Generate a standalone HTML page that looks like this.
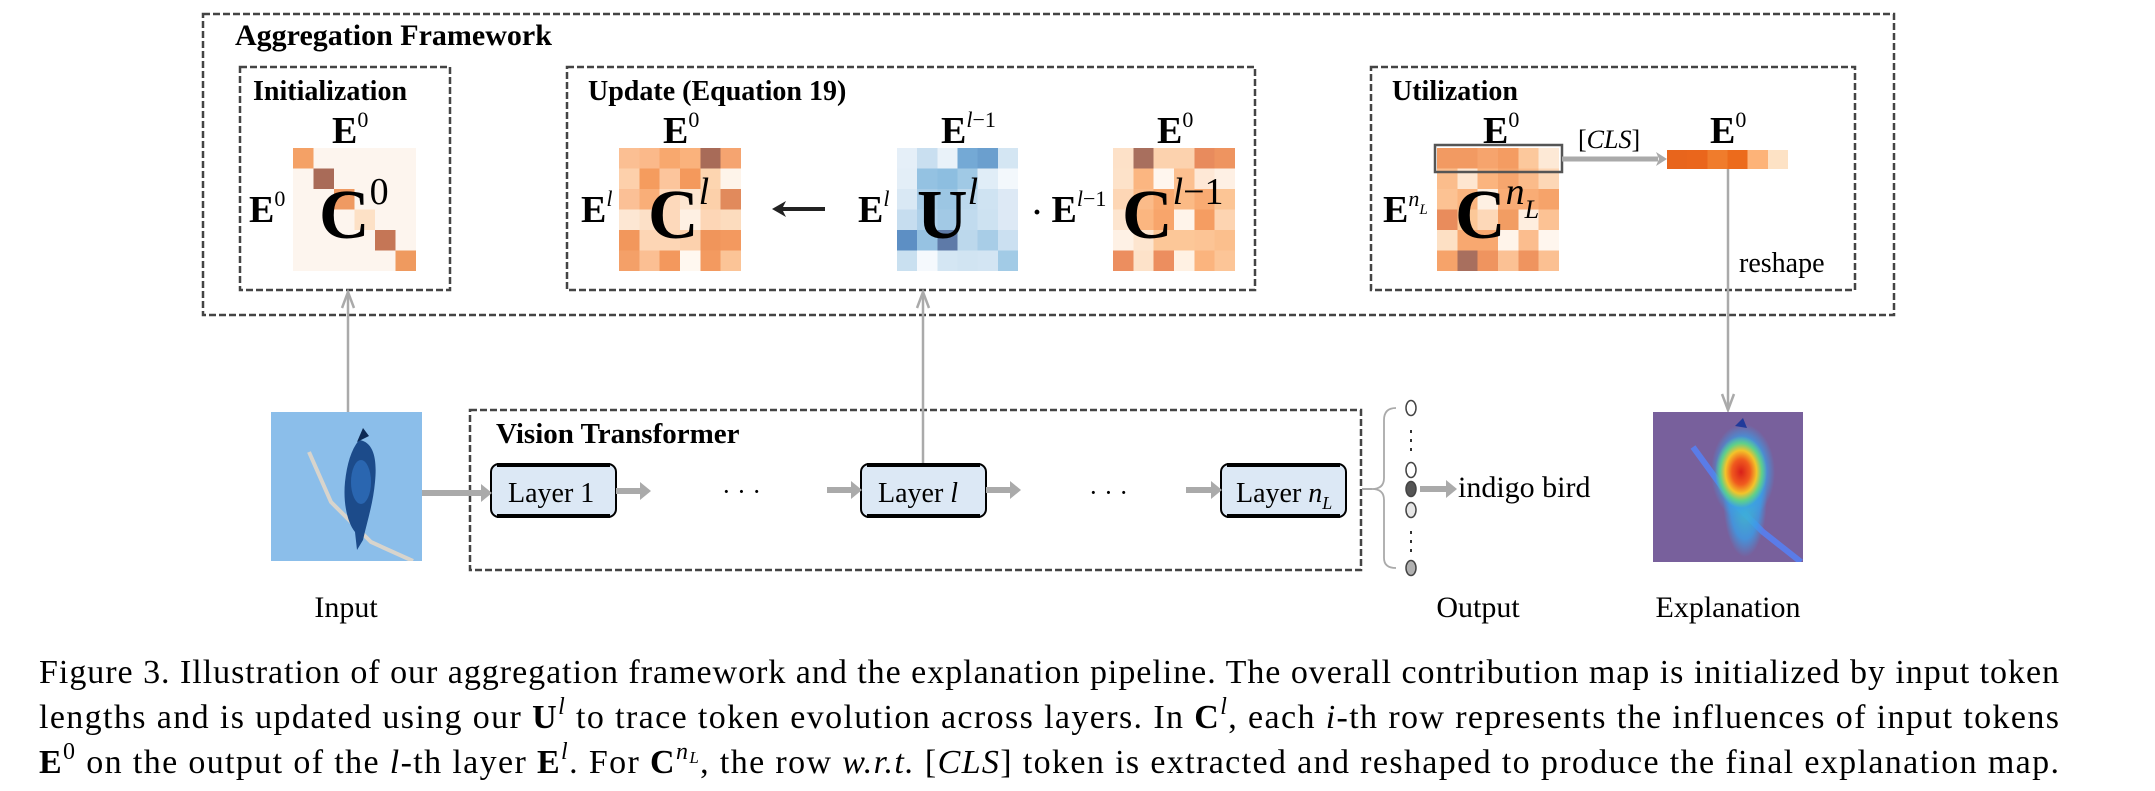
<!DOCTYPE html>
<html><head><meta charset="utf-8"><style>
html,body{margin:0;padding:0;background:#fff;}
svg{display:block;font-family:"Liberation Serif","Times New Roman",Times,serif;}
text,tspan{font-family:"Liberation Serif","Times New Roman",Times,serif;}
text{fill:#000;}
.b{font-weight:bold;}
.i{font-style:italic;}
</style></head><body>
<svg width="2155" height="791" viewBox="0 0 2155 791" xmlns="http://www.w3.org/2000/svg" font-family="Liberation Serif, Times New Roman, serif">
<defs>
<radialGradient id="h1" cx="0.5" cy="0.5" r="0.5">
<stop offset="0" stop-color="#d8201a"/><stop offset="0.35" stop-color="#f05a1e"/><stop offset="0.6" stop-color="#f3c42a"/><stop offset="0.8" stop-color="#5fd08a"/><stop offset="1" stop-color="#5fd08a" stop-opacity="0"/>
</radialGradient>
<radialGradient id="h2" cx="0.5" cy="0.5" r="0.5">
<stop offset="0" stop-color="#40c8c0"/><stop offset="0.7" stop-color="#3a9ee8" stop-opacity="0.8"/><stop offset="1" stop-color="#3a9ee8" stop-opacity="0"/>
</radialGradient>
</defs>

<g fill="none" stroke="#444" stroke-width="2.5" stroke-dasharray="7 3">
<rect x="203" y="14" width="1691" height="301"/>
<rect x="240" y="67" width="210" height="223"/>
<rect x="567" y="67" width="688" height="223"/>
<rect x="1371" y="67" width="484" height="223"/>
<rect x="470" y="410" width="891" height="160"/>
</g>

<text x="235" y="45" class="b" font-size="30">Aggregation Framework</text>
<text x="253" y="100" class="b" font-size="28">Initialization</text>
<text x="588" y="100" class="b" font-size="28">Update (Equation 19)</text>
<text x="1392" y="100" class="b" font-size="28">Utilization</text>

<svg x="293" y="148" width="123" height="123" viewBox="0 0 6 6" preserveAspectRatio="none" shape-rendering="crispEdges">
<rect width="6" height="6" fill="#fdf5ee"/>
<rect x="0" y="0" width="1" height="1" fill="#f4a166"/>
<rect x="1" y="1" width="1" height="1" fill="#a96b58"/>
<rect x="2" y="2" width="1" height="1" fill="#ef9a62"/>
<rect x="3" y="3" width="1" height="1" fill="#fde1c6"/>
<rect x="4" y="4" width="1" height="1" fill="#c57656"/>
<rect x="5" y="5" width="1" height="1" fill="#ef9a5f"/>
</svg>

<svg x="619" y="148" width="122" height="123" viewBox="0 0 6 6" preserveAspectRatio="none" shape-rendering="crispEdges">
<g><rect x="0" y="0" width="1" height="1" fill="#fbbf93"/><rect x="1" y="0" width="1" height="1" fill="#fbb98a"/><rect x="2" y="0" width="1" height="1" fill="#f8a86e"/><rect x="3" y="0" width="1" height="1" fill="#fab27c"/><rect x="4" y="0" width="1" height="1" fill="#a86b58"/><rect x="5" y="0" width="1" height="1" fill="#f5a470"/></g>
<g><rect x="0" y="1" width="1" height="1" fill="#fdd0ab"/><rect x="1" y="1" width="1" height="1" fill="#f59c5e"/><rect x="2" y="1" width="1" height="1" fill="#fcc59c"/><rect x="3" y="1" width="1" height="1" fill="#f4995c"/><rect x="4" y="1" width="1" height="1" fill="#fdd5b0"/><rect x="5" y="1" width="1" height="1" fill="#fef4ea"/></g>
<g><rect x="0" y="2" width="1" height="1" fill="#fbc096"/><rect x="1" y="2" width="1" height="1" fill="#f9ae78"/><rect x="2" y="2" width="1" height="1" fill="#fdd9bb"/><rect x="3" y="2" width="1" height="1" fill="#fde6d1"/><rect x="4" y="2" width="1" height="1" fill="#fcd0aa"/><rect x="5" y="2" width="1" height="1" fill="#e18a5c"/></g>
<g><rect x="0" y="3" width="1" height="1" fill="#fde7d3"/><rect x="1" y="3" width="1" height="1" fill="#fce0c7"/><rect x="2" y="3" width="1" height="1" fill="#fdd9bb"/><rect x="3" y="3" width="1" height="1" fill="#fef0e3"/><rect x="4" y="3" width="1" height="1" fill="#fdd6b6"/><rect x="5" y="3" width="1" height="1" fill="#fcdcbe"/></g>
<g><rect x="0" y="4" width="1" height="1" fill="#f2975c"/><rect x="1" y="4" width="1" height="1" fill="#fdd6b5"/><rect x="2" y="4" width="1" height="1" fill="#fdd6b5"/><rect x="3" y="4" width="1" height="1" fill="#fcd1ad"/><rect x="4" y="4" width="1" height="1" fill="#f0955b"/><rect x="5" y="4" width="1" height="1" fill="#f3995f"/></g>
<g><rect x="0" y="5" width="1" height="1" fill="#f4a068"/><rect x="1" y="5" width="1" height="1" fill="#fbbf93"/><rect x="2" y="5" width="1" height="1" fill="#f3985d"/><rect x="3" y="5" width="1" height="1" fill="#fff8f0"/><rect x="4" y="5" width="1" height="1" fill="#f39a60"/><rect x="5" y="5" width="1" height="1" fill="#fbc497"/></g>
</svg>

<svg x="897" y="148" width="121" height="123" viewBox="0 0 6 6" preserveAspectRatio="none" shape-rendering="crispEdges">
<g><rect x="0" y="0" width="1" height="1" fill="#e5eff8"/><rect x="1" y="0" width="1" height="1" fill="#c9dff0"/><rect x="2" y="0" width="1" height="1" fill="#e9f2f9"/><rect x="3" y="0" width="1" height="1" fill="#74a9d5"/><rect x="4" y="0" width="1" height="1" fill="#6b9fce"/><rect x="5" y="0" width="1" height="1" fill="#d4e6f3"/></g>
<g><rect x="0" y="1" width="1" height="1" fill="#e3eef7"/><rect x="1" y="1" width="1" height="1" fill="#94c2e2"/><rect x="2" y="1" width="1" height="1" fill="#8dbee0"/><rect x="3" y="1" width="1" height="1" fill="#a0c9e5"/><rect x="4" y="1" width="1" height="1" fill="#e0edf7"/><rect x="5" y="1" width="1" height="1" fill="#f3f8fc"/></g>
<g><rect x="0" y="2" width="1" height="1" fill="#d9e8f4"/><rect x="1" y="2" width="1" height="1" fill="#a6cbe6"/><rect x="2" y="2" width="1" height="1" fill="#9cc6e3"/><rect x="3" y="2" width="1" height="1" fill="#bcd8ec"/><rect x="4" y="2" width="1" height="1" fill="#cfe3f2"/><rect x="5" y="2" width="1" height="1" fill="#dde9f5"/></g>
<g><rect x="0" y="3" width="1" height="1" fill="#c6ddef"/><rect x="1" y="3" width="1" height="1" fill="#aed0e9"/><rect x="2" y="3" width="1" height="1" fill="#a2c9e5"/><rect x="3" y="3" width="1" height="1" fill="#c1dbee"/><rect x="4" y="3" width="1" height="1" fill="#cde2f1"/><rect x="5" y="3" width="1" height="1" fill="#dde9f5"/></g>
<g><rect x="0" y="4" width="1" height="1" fill="#5d8fc4"/><rect x="1" y="4" width="1" height="1" fill="#96c2e2"/><rect x="2" y="4" width="1" height="1" fill="#5e7aa8"/><rect x="3" y="4" width="1" height="1" fill="#bcd8ec"/><rect x="4" y="4" width="1" height="1" fill="#a8cde7"/><rect x="5" y="4" width="1" height="1" fill="#cbe0f1"/></g>
<g><rect x="0" y="5" width="1" height="1" fill="#c9e0f0"/><rect x="1" y="5" width="1" height="1" fill="#f5f9fd"/><rect x="2" y="5" width="1" height="1" fill="#d4e6f3"/><rect x="3" y="5" width="1" height="1" fill="#d1e4f2"/><rect x="4" y="5" width="1" height="1" fill="#d3e5f3"/><rect x="5" y="5" width="1" height="1" fill="#a2cbe6"/></g>
</svg>

<svg x="1113" y="148" width="122" height="123" viewBox="0 0 6 6" preserveAspectRatio="none" shape-rendering="crispEdges">
<g><rect x="0" y="0" width="1" height="1" fill="#fde1c8"/><rect x="1" y="0" width="1" height="1" fill="#a86f5e"/><rect x="2" y="0" width="1" height="1" fill="#fcd2ae"/><rect x="3" y="0" width="1" height="1" fill="#fcd2ae"/><rect x="4" y="0" width="1" height="1" fill="#e88b5d"/><rect x="5" y="0" width="1" height="1" fill="#ee9460"/></g>
<g><rect x="0" y="1" width="1" height="1" fill="#fde2c9"/><rect x="1" y="1" width="1" height="1" fill="#fbb681"/><rect x="2" y="1" width="1" height="1" fill="#fff6ee"/><rect x="3" y="1" width="1" height="1" fill="#fcc090"/><rect x="4" y="1" width="1" height="1" fill="#fee8d6"/><rect x="5" y="1" width="1" height="1" fill="#fef0e4"/></g>
<g><rect x="0" y="2" width="1" height="1" fill="#fdd6b5"/><rect x="1" y="2" width="1" height="1" fill="#fbbb89"/><rect x="2" y="2" width="1" height="1" fill="#f9a96f"/><rect x="3" y="2" width="1" height="1" fill="#fbba85"/><rect x="4" y="2" width="1" height="1" fill="#f9ab72"/><rect x="5" y="2" width="1" height="1" fill="#fcc595"/></g>
<g><rect x="0" y="3" width="1" height="1" fill="#fde5cf"/><rect x="1" y="3" width="1" height="1" fill="#fbb680"/><rect x="2" y="3" width="1" height="1" fill="#f8a56b"/><rect x="3" y="3" width="1" height="1" fill="#fff4ea"/><rect x="4" y="3" width="1" height="1" fill="#f59d62"/><rect x="5" y="3" width="1" height="1" fill="#fdd4b1"/></g>
<g><rect x="0" y="4" width="1" height="1" fill="#fef1e5"/><rect x="1" y="4" width="1" height="1" fill="#fde5cf"/><rect x="2" y="4" width="1" height="1" fill="#fcc798"/><rect x="3" y="4" width="1" height="1" fill="#fcc798"/><rect x="4" y="4" width="1" height="1" fill="#fcc495"/><rect x="5" y="4" width="1" height="1" fill="#fbbf8d"/></g>
<g><rect x="0" y="5" width="1" height="1" fill="#ec8e5f"/><rect x="1" y="5" width="1" height="1" fill="#fde2c9"/><rect x="2" y="5" width="1" height="1" fill="#ec8e5f"/><rect x="3" y="5" width="1" height="1" fill="#fff1e3"/><rect x="4" y="5" width="1" height="1" fill="#fbb47e"/><rect x="5" y="5" width="1" height="1" fill="#fcc597"/></g>
</svg>

<svg x="1437" y="148" width="122" height="123" viewBox="0 0 6 6" preserveAspectRatio="none" shape-rendering="crispEdges">
<g><rect x="0" y="0" width="1" height="1" fill="#f29a62"/><rect x="1" y="0" width="1" height="1" fill="#f29a62"/><rect x="2" y="0" width="1" height="1" fill="#f6a46d"/><rect x="3" y="0" width="1" height="1" fill="#f49c62"/><rect x="4" y="0" width="1" height="1" fill="#fcc89c"/><rect x="5" y="0" width="1" height="1" fill="#fde9d6"/></g>
<g><rect x="0" y="1" width="1" height="1" fill="#fbbd8c"/><rect x="1" y="1" width="1" height="1" fill="#fee6d0"/><rect x="2" y="1" width="1" height="1" fill="#fbb47e"/><rect x="3" y="1" width="1" height="1" fill="#f6a66e"/><rect x="4" y="1" width="1" height="1" fill="#fbbb8a"/><rect x="5" y="1" width="1" height="1" fill="#fdd7b6"/></g>
<g><rect x="0" y="2" width="1" height="1" fill="#fcc293"/><rect x="1" y="2" width="1" height="1" fill="#fbb47e"/><rect x="2" y="2" width="1" height="1" fill="#fef0e3"/><rect x="3" y="2" width="1" height="1" fill="#f9ac75"/><rect x="4" y="2" width="1" height="1" fill="#f9ac75"/><rect x="5" y="2" width="1" height="1" fill="#f6a36a"/></g>
<g><rect x="0" y="3" width="1" height="1" fill="#e98c5c"/><rect x="1" y="3" width="1" height="1" fill="#fcc898"/><rect x="2" y="3" width="1" height="1" fill="#fdd8b8"/><rect x="3" y="3" width="1" height="1" fill="#f29d63"/><rect x="4" y="3" width="1" height="1" fill="#feeedf"/><rect x="5" y="3" width="1" height="1" fill="#fcc294"/></g>
<g><rect x="0" y="4" width="1" height="1" fill="#fde0c4"/><rect x="1" y="4" width="1" height="1" fill="#f8a870"/><rect x="2" y="4" width="1" height="1" fill="#f8a870"/><rect x="3" y="4" width="1" height="1" fill="#fff4ea"/><rect x="4" y="4" width="1" height="1" fill="#fbbd8e"/><rect x="5" y="4" width="1" height="1" fill="#fff6ee"/></g>
<g><rect x="0" y="5" width="1" height="1" fill="#f6a36a"/><rect x="1" y="5" width="1" height="1" fill="#a86f5e"/><rect x="2" y="5" width="1" height="1" fill="#ef945f"/><rect x="3" y="5" width="1" height="1" fill="#fbc194"/><rect x="4" y="5" width="1" height="1" fill="#ef945f"/><rect x="5" y="5" width="1" height="1" fill="#fbc092"/></g>
</svg>

<svg x="1667" y="150" width="121" height="19" viewBox="0 0 6 1" preserveAspectRatio="none" shape-rendering="crispEdges">
<rect x="0" y="0" width="1" height="1" fill="#e8651c"/><rect x="1" y="0" width="1" height="1" fill="#ea661c"/><rect x="2" y="0" width="1" height="1" fill="#f07c2c"/><rect x="3" y="0" width="1" height="1" fill="#ec6b1c"/><rect x="4" y="0" width="1" height="1" fill="#fdb378"/><rect x="5" y="0" width="1" height="1" fill="#fde2c5"/>
</svg>
<rect x="1435" y="145" width="127" height="27" fill="none" stroke="#555" stroke-width="2.5"/>
<line x1="1562" y1="159" x2="1658" y2="159" stroke="#aaa" stroke-width="5"/>
<polygon points="1656,152 1667,159 1656,166 1659,159" fill="#aaa"/>
<text x="1578" y="148" font-size="26">[<tspan class="i">CLS</tspan>]</text>

<g class="b" font-size="38">
<text x="332" y="143">E<tspan font-size="22" font-weight="normal" dy="-16">0</tspan></text>
<text x="663" y="143">E<tspan font-size="22" font-weight="normal" dy="-16">0</tspan></text>
<text x="941" y="143">E<tspan font-size="22" font-weight="normal" font-style="italic" dy="-16">l</tspan><tspan font-size="22" font-weight="normal" dy="0">−1</tspan></text>
<text x="1157" y="143">E<tspan font-size="22" font-weight="normal" dy="-16">0</tspan></text>
<text x="1483" y="143">E<tspan font-size="22" font-weight="normal" dy="-16">0</tspan></text>
<text x="1710" y="143">E<tspan font-size="22" font-weight="normal" dy="-16">0</tspan></text>
</g>
<g class="b" font-size="38">
<text x="249" y="222">E<tspan font-size="22" font-weight="normal" dy="-16">0</tspan></text>
<text x="581" y="222">E<tspan font-size="22" font-weight="normal" font-style="italic" dy="-16">l</tspan></text>
<text x="858" y="222">E<tspan font-size="22" font-weight="normal" font-style="italic" dy="-16">l</tspan></text>
<text x="1032" y="222"><tspan font-size="30">·</tspan> E<tspan font-size="22" font-weight="normal" font-style="italic" dy="-16">l</tspan><tspan font-size="22" font-weight="normal">−1</tspan></text>
<text x="1383" y="222">E<tspan font-size="22" font-weight="normal" font-style="italic" dy="-16">n<tspan font-size="15" dy="8">L</tspan></tspan></text>
</g>
<g class="b" font-size="70">
<text x="319" y="238">C<tspan font-size="38" font-weight="normal" dy="-34">0</tspan></text>
<text x="648" y="238">C<tspan font-size="38" font-weight="normal" font-style="italic" dy="-34">l</tspan></text>
<text x="917" y="238">U<tspan font-size="38" font-weight="normal" font-style="italic" dy="-34">l</tspan></text>
<text x="1122" y="238">C<tspan font-size="38" font-weight="normal" font-style="italic" dy="-34">l</tspan><tspan font-size="38" font-weight="normal">−1</tspan></text>
<text x="1455" y="238">C<tspan font-size="38" font-weight="normal" font-style="italic" dy="-34">n<tspan font-size="26" dy="14">L</tspan></tspan></text>
</g>
<line x1="782" y1="209" x2="825" y2="209" stroke="#222" stroke-width="4"/>
<polygon points="772,209 786,201 782,209 786,217" fill="#222"/>

<text x="1739" y="272" font-size="28">reshape</text>

<g stroke="#aaa" stroke-width="2.5" fill="none">
<line x1="348" y1="412" x2="348" y2="292"/>
<polyline points="342,308 348,292 354,308"/>
<line x1="923" y1="464" x2="923" y2="292"/>
<polyline points="917,308 923,292 929,308"/>
<line x1="1728" y1="169" x2="1728" y2="410"/>
<polyline points="1722,394 1728,410 1734,394"/>
</g>

<svg x="271" y="412" width="151" height="149" viewBox="0 0 151 149">
<rect width="151" height="149" fill="#8bbeea"/>
<path d="M38 40 L60 90 L100 130 L142 149" stroke="#d8d4cc" stroke-width="4" fill="none"/>
<path d="M88 28 C104 30 106 50 104 70 C102 92 96 110 92 128 L86 138 L84 120 C76 110 72 90 74 70 C76 52 80 38 88 28 Z" fill="#1c4b8a"/>
<path d="M86 30 L92 16 L98 24 Z" fill="#0d2a55"/>
<ellipse cx="90" cy="70" rx="10" ry="22" fill="#2a66b0"/>
</svg>

<text x="496" y="443" class="b" font-size="29">Vision Transformer</text>
<g>
<rect x="491" y="464" width="125" height="53" rx="8" fill="#dce8f5" stroke="#000" stroke-width="2"/>
<rect x="861" y="464" width="125" height="53" rx="8" fill="#dce8f5" stroke="#000" stroke-width="2"/>
<rect x="1221" y="464" width="125" height="53" rx="8" fill="#dce8f5" stroke="#000" stroke-width="2"/>
<g stroke="#000" stroke-width="4">
<line x1="497" y1="465" x2="610" y2="465"/><line x1="497" y1="516" x2="610" y2="516"/>
<line x1="867" y1="465" x2="980" y2="465"/><line x1="867" y1="516" x2="980" y2="516"/>
<line x1="1227" y1="465" x2="1340" y2="465"/><line x1="1227" y1="516" x2="1340" y2="516"/>
</g>
</g>
<text x="508" y="502" font-size="28">Layer 1</text>
<text x="878" y="502" font-size="28">Layer <tspan class="i">l</tspan></text>
<text x="1236" y="502" font-size="28">Layer <tspan class="i">n<tspan font-size="18" dy="7">L</tspan></tspan></text>

<g stroke="#aaa" stroke-width="6">
<line x1="422" y1="493" x2="483" y2="493"/>
<line x1="616" y1="491" x2="642" y2="491"/>
<line x1="827" y1="490" x2="853" y2="490"/>
<line x1="986" y1="490" x2="1012" y2="490"/>
<line x1="1186" y1="490" x2="1213" y2="490"/>
<line x1="1420" y1="489" x2="1448" y2="489"/>
</g>
<g fill="#aaa">
<polygon points="481,484 492,493 481,502"/>
<polygon points="640,482 651,491 640,500"/>
<polygon points="851,481 862,490 851,499"/>
<polygon points="1010,481 1021,490 1010,499"/>
<polygon points="1211,481 1222,490 1211,499"/>
<polygon points="1446,480 1457,489 1446,498"/>
</g>
<text x="722" y="500" font-size="26">· · ·</text>
<text x="1089" y="501" font-size="26">· · ·</text>

<path d="M1396 408 Q1384 408 1384 420 L1384 478 Q1384 489 1372 489 Q1384 489 1384 500 L1384 558 Q1384 568 1396 568" fill="none" stroke="#aaa" stroke-width="1.8"/>
<line x1="1362" y1="489" x2="1372" y2="489" stroke="#aaa" stroke-width="2"/>
<g stroke="#444" stroke-width="1.5">
<ellipse cx="1411" cy="408" rx="5" ry="7.5" fill="#fff"/>
<ellipse cx="1411" cy="470" rx="5" ry="7.5" fill="#fff"/>
<ellipse cx="1411" cy="489" rx="5" ry="7.5" fill="#555"/>
<ellipse cx="1411" cy="510" rx="5" ry="7.5" fill="#e6e6e6"/>
<ellipse cx="1411" cy="568" rx="5" ry="7.5" fill="#b0b0b0"/>
</g>
<g fill="#333">
<rect x="1410" y="430" width="2" height="3"/><rect x="1410" y="439" width="2" height="3"/><rect x="1410" y="448" width="2" height="3"/>
<rect x="1410" y="531" width="2" height="3"/><rect x="1410" y="540" width="2" height="3"/><rect x="1410" y="549" width="2" height="3"/>
</g>
<text x="1458" y="497" font-size="30">indigo bird</text>

<svg x="1653" y="412" width="150" height="150" viewBox="0 0 150 150">
<rect width="150" height="150" fill="#78609c"/>
<path d="M40 35 L80 90 L110 120 L148 150" stroke="#5a7ce8" stroke-width="6" fill="none"/>
<ellipse cx="92" cy="85" rx="22" ry="60" fill="url(#h2)"/>
<ellipse cx="90" cy="60" rx="32" ry="48" fill="url(#h2)"/>
<ellipse cx="88" cy="60" rx="26" ry="36" fill="url(#h1)"/>
<path d="M82 14 L90 6 L94 16 Z" fill="#203a9a"/>
</svg>

<text x="346" y="617" font-size="30" text-anchor="middle">Input</text>
<text x="1478" y="617" font-size="30" text-anchor="middle">Output</text>
<text x="1728" y="617" font-size="30" text-anchor="middle">Explanation</text>

<g font-size="34">
<text x="39" y="683" textLength="2020" lengthAdjust="spacing">Figure 3. Illustration of our aggregation framework and the explanation pipeline. The overall contribution map is initialized by input token</text>
<text x="39" y="728" textLength="2020" lengthAdjust="spacing">lengths and is updated using our <tspan font-weight="bold">U</tspan><tspan class="i" font-size="24" dy="-14">l</tspan><tspan dy="14"> to trace token evolution across layers. In </tspan><tspan font-weight="bold">C</tspan><tspan class="i" font-size="24" dy="-14">l</tspan><tspan dy="14">, each </tspan><tspan class="i">i</tspan>-th row represents the influences of input tokens</text>
<text x="39" y="773" textLength="2020" lengthAdjust="spacing"><tspan font-weight="bold">E</tspan><tspan font-size="24" dy="-14">0</tspan><tspan dy="14"> on the output of the </tspan><tspan class="i">l</tspan>-th layer <tspan font-weight="bold">E</tspan><tspan class="i" font-size="24" dy="-14">l</tspan><tspan dy="14">. For </tspan><tspan font-weight="bold">C</tspan><tspan class="i" font-size="24" dy="-14">n</tspan><tspan class="i" font-size="17" dy="4">L</tspan><tspan dy="10">, the row </tspan><tspan class="i">w.r.t.</tspan> [<tspan class="i">CLS</tspan>] token is extracted and reshaped to produce the final explanation map.</text>
</g>
</svg>
</body></html>
